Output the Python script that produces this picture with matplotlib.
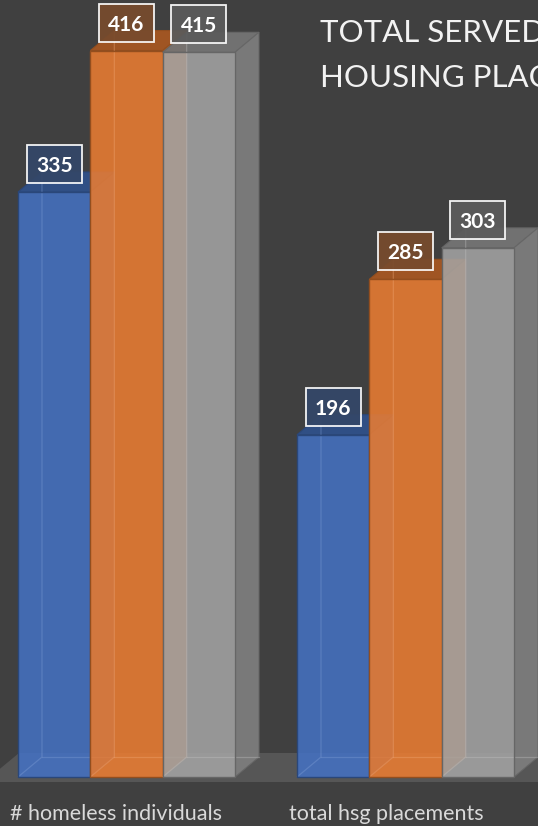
import matplotlib
matplotlib.use("Agg")
import matplotlib.pyplot as plt
import matplotlib.colors as mcolors
from matplotlib.patches import Polygon, Rectangle
from matplotlib.transforms import offset_copy
import numpy as np

# ---------------- data ----------------
categories = ["# homeless individuals", "total hsg placements"]
series_names = ["Series 1", "Series 2", "Series 3"]
values_blue = [335, 196]
values_orange = [416, 285]
values_gray = [415, 303]
title_lines = ["TOTAL SERVED", "HOUSING PLACEMENTS"]

series_values = [values_blue, values_orange, values_gray]
series_colors = ["#4472C4", "#ED7D31", "#A5A5A5"]

# ---------------- style / layout ----------------
BG = "#404040"
FLOOR = "#565656"
FONT = ["Lato", "DejaVu Sans"]
W_PX, H_PX, DPI = 538, 826, 100
BAR_W = 0.2593
XLIM = (-0.4534, 1.4749)
YLIM = (-28.06, 444.94)
DEPTH_PX = (24, 20)        # 3-D depth offset of bars in pixels
FRONT_ALPHA = 0.86
BOX_W_PX, BOX_H_PX, BOX_LIFT_PX = 55, 38, 28

fig = plt.figure(figsize=(W_PX / DPI, H_PX / DPI), dpi=DPI)
fig.patch.set_facecolor(BG)
ax = fig.add_axes([0, 0, 1, 1])
ax.set_facecolor(BG)
ax.set_xlim(*XLIM)
ax.set_ylim(*YLIM)
ax.axis("off")

sx = W_PX / (XLIM[1] - XLIM[0])   # px per x unit
sy = H_PX / (YLIM[1] - YLIM[0])   # px per y unit
DX = DEPTH_PX[0] / sx
DY = DEPTH_PX[1] / sy


def shade(c, f):
    rgb = np.array(mcolors.to_rgb(c))
    return tuple(np.clip(rgb * f, 0, 1))


def mix(c, other, t):
    a = np.array(mcolors.to_rgb(c))
    b = np.array(mcolors.to_rgb(other))
    return tuple(a * (1 - t) + b * t)


x = np.arange(len(categories))
n = len(series_values)
offsets = (np.arange(n) - (n - 1) / 2) * BAR_W

# floor (drawn under everything)
left_edge = x[0] + offsets[0] - BAR_W / 2
floor_poly = [
    (left_edge - 34 / sx, -5 / sy),
    (XLIM[1] + 1, -5 / sy),
    (XLIM[1] + 1, 24 / sy),
    (left_edge + 1 / sx, 24 / sy),
]
ax.add_patch(Polygon(floor_poly, closed=True, fc=FLOOR, ec="none", zorder=0.5))

lift = offset_copy(ax.transData, fig=fig, x=0, y=BOX_LIFT_PX, units="dots")
base = offset_copy(ax.transData, fig=fig, x=0, y=BOX_LIFT_PX - 8, units="dots")

for si, (vals, col) in enumerate(zip(series_values, series_colors)):
    z = 2 + si
    edge = shade(col, 0.62)
    ax.bar(x + offsets[si], vals, width=BAR_W, color=col, alpha=FRONT_ALPHA,
           edgecolor="none", zorder=z)
    ax.bar(x + offsets[si], vals, width=BAR_W, fill=False,
           edgecolor=edge, linewidth=1.0, zorder=z + 0.3)
    for ci, v in enumerate(vals):
        x0 = x[ci] + offsets[si] - BAR_W / 2
        x1 = x0 + BAR_W
        # top face
        top = [(x0, v), (x1, v), (x1 + DX, v + DY), (x0 + DX, v + DY)]
        ax.add_patch(Polygon(top, closed=True, fc=shade(col, 0.70), alpha=0.95,
                             ec=edge, lw=0.8, zorder=z - 0.2))
        # side face
        side = [(x1, 0), (x1 + DX, DY), (x1 + DX, v + DY), (x1, v)]
        ax.add_patch(Polygon(side, closed=True, fc=shade(col, 0.76), alpha=0.95,
                             ec=edge, lw=0.8, zorder=z - 0.2))
        # hidden back edges seen through the translucent front
        hid = mix(col, "white", 0.35)
        ax.plot([x0, x0 + DX, x0 + DX], [0, DY, v + DY], color=hid, lw=0.9,
                alpha=0.35, zorder=z + 0.2, solid_capstyle="butt")
        ax.plot([x0 + DX, x1 + DX], [DY, DY], color=hid, lw=0.9,
                alpha=0.35, zorder=z + 0.2)
        # value label box
        xc = x0 + BAR_W / 2
        bw, bh = BOX_W_PX / sx, BOX_H_PX / sy
        ax.add_patch(Rectangle((xc - bw / 2, v - bh / 2), bw, bh, transform=lift,
                               fc=mix(col, "#2a2a2a", 0.6), alpha=0.93,
                               ec=(1, 1, 1, 0.55), lw=1.3, zorder=10))
        ax.text(xc, v, f"{v}", transform=base, ha="center", va="baseline",
                fontsize=15, fontweight="bold", color="white", family=FONT,
                zorder=11)

# category labels
lab_tr = offset_copy(ax.transData, fig=fig, x=-8, y=6, units="dots")
for ci, cat in enumerate(categories):
    ax.text(x[ci] + offsets[0] - BAR_W / 2, YLIM[0], cat, transform=lab_tr,
            ha="left", va="baseline", fontsize=15.5, color="#d9d9d9",
            family=FONT, zorder=10)

# title (cropped at the right edge as in the original)
fig.text(320 / W_PX, 1 - 42 / H_PX, title_lines[0], ha="left", va="baseline",
         fontsize=22.5, color="#f2f2f2", family=FONT)
fig.text(320 / W_PX, 1 - 87 / H_PX, title_lines[1], ha="left", va="baseline",
         fontsize=22.5, color="#f2f2f2", family=FONT)

fig.savefig("out.png", dpi=DPI, facecolor=BG)
